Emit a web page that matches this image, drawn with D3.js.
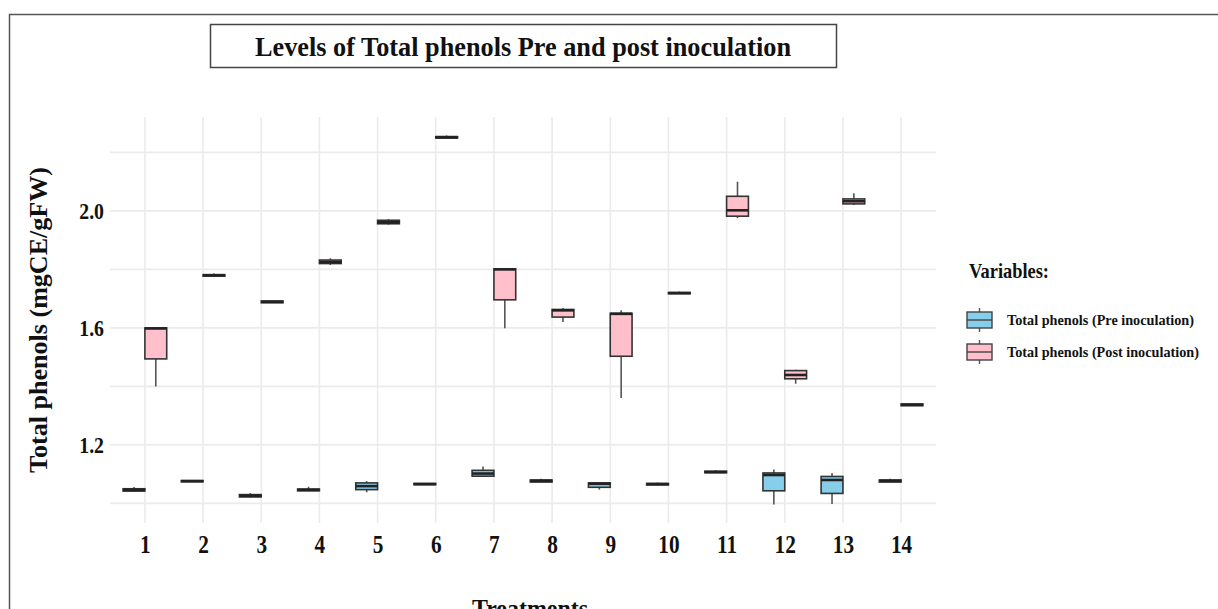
<!DOCTYPE html>
<html>
<head>
<meta charset="utf-8">
<script src="https://cdn.jsdelivr.net/npm/d3@7"></script>
<style>
  body { margin: 0; background: #fff; }
  svg text { font-family: "Liberation Serif", "Times New Roman", serif; font-weight: bold; fill: #111; }
</style>
</head>
<body>
<div id="chart"></div>
<script>
// Chart data
var treatments = ["1", "2", "3", "4", "5", "6", "7", "8", "9", "10", "11", "12", "13", "14"];
var seriesNames = ["Total phenols (Pre inoculation)", "Total phenols (Post inoculation)"];
var seriesColors = ["#87CEEB", "#FFC0CB"];

// five number summaries per treatment: [min, q1, median, q3, max]
var preBoxes = [
  [1.040, 1.042, 1.046, 1.050, 1.056],
  [1.073, 1.074, 1.076, 1.078, 1.079],
  [1.020, 1.022, 1.026, 1.030, 1.035],
  [1.042, 1.043, 1.046, 1.049, 1.057],
  [1.038, 1.047, 1.059, 1.070, 1.076],
  [1.063, 1.064, 1.066, 1.068, 1.069],
  [1.093, 1.093, 1.102, 1.113, 1.126],
  [1.072, 1.073, 1.077, 1.080, 1.084],
  [1.047, 1.055, 1.067, 1.070, 1.070],
  [1.062, 1.063, 1.066, 1.068, 1.071],
  [1.104, 1.105, 1.107, 1.110, 1.114],
  [0.996, 1.043, 1.097, 1.104, 1.116],
  [0.998, 1.034, 1.080, 1.092, 1.104],
  [1.072, 1.073, 1.077, 1.080, 1.084]
];

var postBoxes = [
  [1.400, 1.494, 1.598, 1.600, 1.600],
  [1.776, 1.777, 1.780, 1.782, 1.786],
  [1.685, 1.686, 1.689, 1.692, 1.694],
  [1.815, 1.820, 1.825, 1.832, 1.838],
  [1.953, 1.956, 1.961, 1.968, 1.972],
  [2.248, 2.249, 2.252, 2.254, 2.258],
  [1.599, 1.696, 1.800, 1.802, 1.805],
  [1.620, 1.637, 1.660, 1.663, 1.668],
  [1.360, 1.503, 1.648, 1.650, 1.660],
  [1.716, 1.717, 1.719, 1.721, 1.724],
  [1.975, 1.982, 2.002, 2.050, 2.100],
  [1.409, 1.426, 1.439, 1.454, 1.457],
  [2.020, 2.024, 2.033, 2.041, 2.060],
  [1.333, 1.334, 1.337, 1.340, 1.342]
];

var yTickValues = [1.2, 1.6, 2.0];
var yGridValues = [1.0, 1.2, 1.4, 1.6, 1.8, 2.0, 2.2];

// Set up chart area
var svgWidth = 1218;
var svgHeight = 609;

var panel = { left: 110, right: 936, top: 117, bottom: 523 };

var svg = d3.select("#chart")
  .append("svg")
  .attr("width", svgWidth)
  .attr("height", svgHeight);

// outer frame of the figure
svg.append("rect")
  .attr("x", 9.5).attr("y", 14.5)
  .attr("width", 1230).attr("height", 620)
  .attr("fill", "none")
  .attr("stroke", "#555")
  .attr("stroke-width", 1.5);

// build rows for drawing
var rows = [];
treatments.forEach(function (t, i) {
  rows.push({ t: t, s: 0, v: preBoxes[i] });
  rows.push({ t: t, s: 1, v: postBoxes[i] });
});

// Scales
var allVals = preBoxes.concat(postBoxes);
var yMin = d3.min(allVals, d => d[0]);
var yMax = d3.max(allVals, d => d[4]);
var pad = (yMax - yMin) * 0.05;

var xScale = d3.scalePoint()
  .domain(treatments)
  .range([panel.left, panel.right])
  .padding(0.6);

var step = xScale.step();

var dodge = d3.scaleBand()
  .domain([0, 1])
  .range([-0.375 * step, 0.375 * step]);

var yScale = d3.scaleLinear()
  .domain([yMin - pad, yMax + pad])
  .range([panel.bottom, panel.top]);

// Grid lines
var grid = svg.append("g");
grid.selectAll(".hgrid")
  .data(yGridValues)
  .enter()
  .append("line")
  .attr("x1", panel.left).attr("x2", panel.right)
  .attr("y1", d => yScale(d)).attr("y2", d => yScale(d))
  .attr("stroke", "#ebebeb")
  .attr("stroke-width", 1.6);

grid.selectAll(".vgrid")
  .data(treatments)
  .enter()
  .append("line")
  .attr("x1", d => xScale(d)).attr("x2", d => xScale(d))
  .attr("y1", panel.top).attr("y2", panel.bottom)
  .attr("stroke", "#ebebeb")
  .attr("stroke-width", 1.6);

// Axes
var bottomAxis = d3.axisBottom(xScale).tickSize(0).tickPadding(0);
var leftAxis = d3.axisLeft(yScale).tickValues(yTickValues).tickFormat(d3.format(".1f")).tickSize(0);

var xAxisG = svg.append("g")
  .attr("transform", `translate(0, ${panel.bottom})`)
  .call(bottomAxis);
xAxisG.select(".domain").remove();
xAxisG.selectAll("text")
  .attr("x", 0)
  .attr("y", 0)
  .attr("dy", 0)
  .attr("text-anchor", "middle")
  .attr("transform", "translate(0,30) scale(0.82,1)")
  .style("font-size", "26px")
  .style("font-family", "Liberation Serif, serif")
  .attr("fill", "#111");

var yAxisG = svg.append("g")
  .attr("transform", `translate(${panel.left - 6}, 0)`)
  .call(leftAxis);
yAxisG.select(".domain").remove();
yAxisG.selectAll("text")
  .attr("x", 0)
  .attr("dy", "0.34em")
  .attr("transform", "scale(0.86,1)")
  .style("font-size", "23px")
  .style("font-family", "Liberation Serif, serif")
  .attr("fill", "#111");

// Boxes
var boxes = svg.append("g")
  .selectAll(".box")
  .data(rows)
  .enter()
  .append("g")
  .attr("transform", d => `translate(${xScale(d.t) + dodge(d.s)}, 0)`);

var bw = dodge.bandwidth();

// whiskers
boxes.append("line")
  .attr("x1", bw / 2).attr("x2", bw / 2)
  .attr("y1", d => yScale(d.v[4])).attr("y2", d => yScale(d.v[3]))
  .attr("stroke", "#555").attr("stroke-width", 1.6);
boxes.append("line")
  .attr("x1", bw / 2).attr("x2", bw / 2)
  .attr("y1", d => yScale(d.v[1])).attr("y2", d => yScale(d.v[0]))
  .attr("stroke", "#555").attr("stroke-width", 1.6);

// box body
boxes.append("rect")
  .attr("x", 0)
  .attr("width", bw)
  .attr("y", d => yScale(d.v[3]))
  .attr("height", d => Math.max(0.5, yScale(d.v[1]) - yScale(d.v[3])))
  .attr("fill", d => seriesColors[d.s])
  .attr("stroke", "#333")
  .attr("stroke-width", 1.6);

// median
boxes.append("line")
  .attr("x1", 0).attr("x2", bw)
  .attr("y1", d => yScale(d.v[2])).attr("y2", d => yScale(d.v[2]))
  .attr("stroke", "#222").attr("stroke-width", 2.6);

// Title box
svg.append("rect")
  .attr("x", 210.5).attr("y", 24.5)
  .attr("width", 626).attr("height", 43)
  .attr("fill", "#fff")
  .attr("stroke", "#444")
  .attr("stroke-width", 1.5);

svg.append("text")
  .attr("x", 523).attr("y", 56)
  .attr("text-anchor", "middle")
  .attr("textLength", 536)
  .attr("lengthAdjust", "spacingAndGlyphs")
  .style("font-size", "28px")
  .text("Levels of Total phenols Pre and post inoculation");

// Axis titles
svg.append("text")
  .attr("transform", "translate(47, 320) rotate(-90)")
  .attr("text-anchor", "middle")
  .attr("textLength", 306)
  .attr("lengthAdjust", "spacingAndGlyphs")
  .style("font-size", "26px")
  .text("Total phenols (mgCE/gFW)");

svg.append("text")
  .attr("x", 530).attr("y", 617)
  .attr("text-anchor", "middle")
  .attr("textLength", 116)
  .attr("lengthAdjust", "spacingAndGlyphs")
  .style("font-size", "26px")
  .text("Treatments");

// Legend
var legend = svg.append("g");
legend.append("text")
  .attr("x", 969).attr("y", 278)
  .attr("textLength", 80)
  .attr("lengthAdjust", "spacingAndGlyphs")
  .style("font-size", "22px")
  .text("Variables:");

var legendRows = legend.selectAll(".key")
  .data(seriesNames)
  .enter()
  .append("g")
  .attr("transform", (d, i) => `translate(967, ${312 + i * 32})`);

legendRows.append("line")
  .attr("x1", 12.5).attr("x2", 12.5)
  .attr("y1", -4).attr("y2", 20)
  .attr("stroke", "#555").attr("stroke-width", 1.4);
legendRows.append("rect")
  .attr("width", 25).attr("height", 16)
  .attr("fill", (d, i) => seriesColors[i])
  .attr("stroke", "#444").attr("stroke-width", 1.4);
legendRows.append("line")
  .attr("x1", 0).attr("x2", 25)
  .attr("y1", 8).attr("y2", 8)
  .attr("stroke", "#444").attr("stroke-width", 1.4);
legendRows.append("text")
  .attr("x", 40).attr("y", 13)
  .attr("textLength", (d, i) => i === 0 ? 187 : 192)
  .attr("lengthAdjust", "spacingAndGlyphs")
  .style("font-size", "15px")
  .text(d => d);
</script>
</body>
</html>
